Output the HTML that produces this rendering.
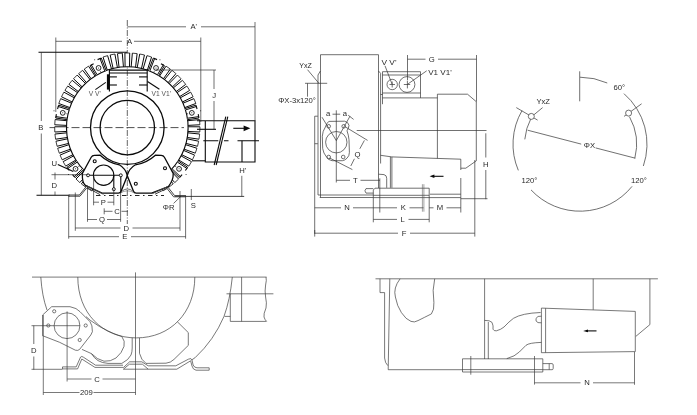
<!DOCTYPE html>
<html>
<head>
<meta charset="utf-8">
<title>Blower dimension drawing</title>
<style>
html,body{margin:0;padding:0;background:#fff;}
body{width:697px;height:415px;overflow:hidden;}
svg{display:block;will-change:transform;}
svg *{fill:none;}
text{font-family:"Liberation Sans",sans-serif;font-size:7.7px;fill:#2a2a2a;stroke:none;}
text.sm{font-size:6.4px;fill:#555;}
.d{stroke:#222;stroke-width:.65;}
.m{stroke:#0a0a0a;stroke-width:1.1;}
.mm{stroke:#0a0a0a;stroke-width:1.3;}
.mw{stroke:#0a0a0a;stroke-width:.9;fill:#fff;}
.dot{fill:#111;stroke:none;}
.fin{stroke:#0a0a0a;stroke-width:1;fill:#fff;}
.cap{stroke:#111;stroke-width:.8;}
.finw{fill:#fff;stroke:none;}
.pl{stroke:#0a0a0a;stroke-width:1.3;fill:#fff;}
.fill{fill:#0a0a0a;stroke:none;}
.g{stroke:#444;stroke-width:1;}
.s{stroke:#333;stroke-width:.7;}
.k{stroke:#555;stroke-width:.55;}
.sw{stroke:#333;stroke-width:.7;fill:#fff;}
.t{stroke:#3a3a3a;stroke-width:.68;}
.bd{stroke:#0a0a0a;stroke-width:.9;stroke-dasharray:4.5 3.5 1.5 3.5;}
.cl{stroke:#222;stroke-width:.7;stroke-dasharray:6 1.5 1 1.5;}
.cl2{stroke:#222;stroke-width:.8;stroke-dasharray:8 3;}
.cl3{stroke:#111;stroke-width:.9;stroke-dasharray:16 3 4 3;}
</style>
</head>
<body>
<svg width="697" height="415" viewBox="0 0 697 415">
<rect x="0" y="0" width="697" height="415" style="fill:#fff"/>
<line class="cl" x1="127.3" y1="20" x2="127.3" y2="224"/>
<line class="cl2" x1="49.5" y1="127.6" x2="184" y2="127.6"/>
<path class="finw" d="M75.82 160.03L65.73 166.15L63.13 161.65L73.47 155.96Z"/>
<path class="fin" d="M75.82 160.03L65.73 166.15M73.47 155.96L63.13 161.65"/>
<path class="cap" d="M65.73 166.15L63.13 161.65"/>
<path class="finw" d="M72.85 154.75L62.19 159.83L60.05 155.09L70.91 150.46Z"/>
<path class="fin" d="M72.85 154.75L62.19 159.83M70.91 150.46L60.05 155.09"/>
<path class="cap" d="M62.19 159.83L60.05 155.09"/>
<path class="finw" d="M70.41 149.19L59.31 153.19L57.65 148.26L68.92 144.73Z"/>
<path class="fin" d="M70.41 149.19L59.31 153.19M68.92 144.73L57.65 148.26"/>
<path class="cap" d="M59.31 153.19L57.65 148.26"/>
<path class="finw" d="M68.55 143.42L57.1 146.29L55.94 141.22L67.5 138.84Z"/>
<path class="fin" d="M68.55 143.42L57.1 146.29M67.5 138.84L55.94 141.22"/>
<path class="cap" d="M57.1 146.29L55.94 141.22"/>
<path class="finw" d="M67.26 137.49L55.59 139.21L54.94 134.05L66.68 132.83Z"/>
<path class="fin" d="M67.26 137.49L55.59 139.21M66.68 132.83L54.94 134.05"/>
<path class="cap" d="M55.59 139.21L54.94 134.05"/>
<path class="finw" d="M66.58 131.46L54.79 132.01L54.66 126.81L66.46 126.76Z"/>
<path class="fin" d="M66.58 131.46L54.79 132.01M66.46 126.76L54.66 126.81"/>
<path class="cap" d="M54.79 132.01L54.66 126.81"/>
<path class="finw" d="M66.49 125.4L54.71 124.77L55.1 119.58L66.85 120.71Z"/>
<path class="fin" d="M66.49 125.4L54.71 124.77M66.85 120.71L55.1 119.58"/>
<path class="cap" d="M54.71 124.77L55.1 119.58"/>
<path class="finw" d="M69.85 107.57L58.77 103.49L60.67 98.65L71.56 103.2Z"/>
<path class="fin" d="M69.85 107.57L58.77 103.49M71.56 103.2L60.67 98.65"/>
<path class="cap" d="M58.77 103.49L60.67 98.65"/>
<path class="finw" d="M72.12 101.95L61.51 96.79L63.88 92.16L74.27 97.77Z"/>
<path class="fin" d="M72.12 101.95L61.51 96.79M74.27 97.77L63.88 92.16"/>
<path class="cap" d="M61.51 96.79L63.88 92.16"/>
<path class="finw" d="M74.95 96.58L64.91 90.39L67.73 86.02L77.5 92.64Z"/>
<path class="fin" d="M74.95 96.58L64.91 90.39M77.5 92.64L67.73 86.02"/>
<path class="cap" d="M64.91 90.39L67.73 86.02"/>
<path class="finw" d="M78.3 91.53L68.92 84.36L72.16 80.3L81.23 87.85Z"/>
<path class="fin" d="M78.3 91.53L68.92 84.36M81.23 87.85L72.16 80.3"/>
<path class="cap" d="M68.92 84.36L72.16 80.3"/>
<path class="finw" d="M82.14 86.83L73.52 78.77L77.15 75.04L85.42 83.46Z"/>
<path class="fin" d="M82.14 86.83L73.52 78.77M85.42 83.46L77.15 75.04"/>
<path class="cap" d="M73.52 78.77L77.15 75.04"/>
<path class="finw" d="M86.42 82.53L78.64 73.65L82.63 70.31L90.02 79.51Z"/>
<path class="fin" d="M86.42 82.53L78.64 73.65M90.02 79.51L82.63 70.31"/>
<path class="cap" d="M78.64 73.65L82.63 70.31"/>
<path class="finw" d="M91.11 78.69L84.26 69.08L88.55 66.15L94.99 76.04Z"/>
<path class="fin" d="M91.11 78.69L84.26 69.08M94.99 76.04L88.55 66.15"/>
<path class="cap" d="M84.26 69.08L88.55 66.15"/>
<path class="finw" d="M107.28 70.15L103.02 57.02L107.61 55.61L111.49 68.85Z"/>
<path class="fin" d="M107.28 70.15L103.02 57.02M111.49 68.85L107.61 55.61"/>
<path class="cap" d="M103.02 57.02L107.61 55.61"/>
<path class="finw" d="M113.1 68.44L110.17 54.95L114.88 54L117.41 67.57Z"/>
<path class="fin" d="M113.1 68.44L110.17 54.95M117.41 67.57L114.88 54"/>
<path class="cap" d="M110.17 54.95L114.88 54"/>
<path class="finw" d="M119.06 67.32L117.49 53.61L122.27 53.13L123.44 66.88Z"/>
<path class="fin" d="M119.06 67.32L117.49 53.61M123.44 66.88L122.27 53.13"/>
<path class="cap" d="M117.49 53.61L122.27 53.13"/>
<path class="finw" d="M125.1 66.8L124.91 53L129.71 53L129.5 66.8Z"/>
<path class="fin" d="M125.1 66.8L124.91 53M129.5 66.8L129.71 53"/>
<path class="cap" d="M124.91 53L129.71 53"/>
<path class="finw" d="M131.17 66.88L132.35 53.13L137.12 53.61L135.55 67.32Z"/>
<path class="fin" d="M131.17 66.88L132.35 53.13M135.55 67.32L137.12 53.61"/>
<path class="cap" d="M132.35 53.13L137.12 53.61"/>
<path class="finw" d="M137.2 67.57L139.73 54L144.44 54.96L141.51 68.44Z"/>
<path class="fin" d="M137.2 67.57L139.73 54M141.51 68.44L144.44 54.96"/>
<path class="cap" d="M139.73 54L144.44 54.96"/>
<path class="finw" d="M143.12 68.85L147 55.61L151.59 57.02L147.33 70.15Z"/>
<path class="fin" d="M143.12 68.85L147 55.61M147.33 70.15L151.59 57.02"/>
<path class="cap" d="M147 55.61L151.59 57.02"/>
<path class="finw" d="M159.6 76.04L166.04 66.15L170.34 69.08L163.49 78.69Z"/>
<path class="fin" d="M159.6 76.04L166.04 66.15M163.49 78.69L170.34 69.08"/>
<path class="cap" d="M166.04 66.15L170.34 69.08"/>
<path class="finw" d="M164.58 79.51L171.97 70.31L175.95 73.65L168.18 82.53Z"/>
<path class="fin" d="M164.58 79.51L171.97 70.31M168.18 82.53L175.95 73.65"/>
<path class="cap" d="M171.97 70.31L175.95 73.65"/>
<path class="finw" d="M169.18 83.46L177.45 75.04L181.08 78.77L172.46 86.83Z"/>
<path class="fin" d="M169.18 83.46L177.45 75.04M172.46 86.83L181.08 78.77"/>
<path class="cap" d="M177.45 75.04L181.08 78.77"/>
<path class="finw" d="M173.37 87.85L182.44 80.3L185.68 84.36L176.3 91.53Z"/>
<path class="fin" d="M173.37 87.85L182.44 80.3M176.3 91.53L185.68 84.36"/>
<path class="cap" d="M182.44 80.3L185.68 84.36"/>
<path class="finw" d="M177.1 92.64L186.87 86.02L189.69 90.39L179.65 96.58Z"/>
<path class="fin" d="M177.1 92.64L186.87 86.02M179.65 96.58L189.69 90.39"/>
<path class="cap" d="M186.87 86.02L189.69 90.39"/>
<path class="finw" d="M180.33 97.77L190.72 92.16L193.09 96.79L182.47 101.95Z"/>
<path class="fin" d="M180.33 97.77L190.72 92.16M182.47 101.95L193.09 96.79"/>
<path class="cap" d="M190.72 92.16L193.09 96.79"/>
<path class="finw" d="M183.04 103.2L193.93 98.65L195.83 103.49L184.75 107.57Z"/>
<path class="fin" d="M183.04 103.2L193.93 98.65M184.75 107.57L195.83 103.49"/>
<path class="cap" d="M193.93 98.65L195.83 103.49"/>
<path class="finw" d="M187.75 120.71L199.5 119.58L199.89 124.76L188.11 125.4Z"/>
<path class="fin" d="M187.75 120.71L199.5 119.58M188.11 125.4L199.89 124.76"/>
<path class="cap" d="M199.5 119.58L199.89 124.76"/>
<path class="finw" d="M188.14 126.76L199.94 126.81L199.81 132.01L188.02 131.46Z"/>
<path class="fin" d="M188.14 126.76L199.94 126.81M188.02 131.46L199.81 132.01"/>
<path class="cap" d="M199.94 126.81L199.81 132.01"/>
<path class="finw" d="M187.92 132.83L199.66 134.04L199.01 139.2L187.34 137.49Z"/>
<path class="fin" d="M187.92 132.83L199.66 134.04M187.34 137.49L199.01 139.2"/>
<path class="cap" d="M199.66 134.04L199.01 139.2"/>
<path class="finw" d="M187.1 138.84L198.66 141.22L197.5 146.29L186.05 143.42Z"/>
<path class="fin" d="M187.1 138.84L198.66 141.22M186.05 143.42L197.5 146.29"/>
<path class="cap" d="M198.66 141.22L197.5 146.29"/>
<path class="finw" d="M185.68 144.73L196.95 148.25L195.29 153.18L184.19 149.19Z"/>
<path class="fin" d="M185.68 144.73L196.95 148.25M184.19 149.19L195.29 153.18"/>
<path class="cap" d="M196.95 148.25L195.29 153.18"/>
<path class="finw" d="M183.69 150.46L194.55 155.09L192.41 159.83L181.75 154.75Z"/>
<path class="fin" d="M183.69 150.46L194.55 155.09M181.75 154.75L192.41 159.83"/>
<path class="cap" d="M194.55 155.09L192.41 159.83"/>
<path class="finw" d="M181.13 155.96L191.48 161.65L188.88 166.15L178.78 160.03Z"/>
<path class="fin" d="M181.13 155.96L191.48 161.65M178.78 160.03L188.88 166.15"/>
<path class="cap" d="M191.48 161.65L188.88 166.15"/>
<path class="finw" d="M170.38 170.57L178.59 179.05L174.78 182.59L166.93 173.77Z"/>
<path class="fin" d="M170.38 170.57L178.59 179.05M166.93 173.77L174.78 182.59"/>
<path class="cap" d="M178.59 179.05L174.78 182.59"/>
<path class="finw" d="M87.67 173.77L79.82 182.59L76.01 179.05L84.22 170.57Z"/>
<path class="fin" d="M87.67 173.77L79.82 182.59M84.22 170.57L76.01 179.05"/>
<path class="cap" d="M79.82 182.59L76.01 179.05"/>
<path class="finw" d="M165.89 174.65L173.21 183.9L169.07 187.04L162.14 177.48Z"/>
<path class="fin" d="M165.89 174.65L173.21 183.9M162.14 177.48L169.07 187.04"/>
<path class="cap" d="M173.21 183.9L169.07 187.04"/>
<path class="finw" d="M92.46 177.48L85.53 187.04L81.39 183.9L88.71 174.65Z"/>
<path class="fin" d="M92.46 177.48L85.53 187.04M88.71 174.65L81.39 183.9"/>
<path class="cap" d="M85.53 187.04L81.39 183.9"/>
<path class="finw" d="M161.01 178.25L167.38 188.19L162.94 190.9L157 180.7Z"/>
<path class="fin" d="M161.01 178.25L167.38 188.19M157 180.7L162.94 190.9"/>
<path class="cap" d="M167.38 188.19L162.94 190.9"/>
<path class="finw" d="M97.6 180.7L91.66 190.9L87.22 188.19L93.59 178.25Z"/>
<path class="fin" d="M97.6 180.7L91.66 190.9M93.59 178.25L87.22 188.19"/>
<path class="cap" d="M91.66 190.9L87.22 188.19"/>
<path class="m" d="M93.3 178.01A60.8 60.8 0 1 1 161.3 178.01"/>
<circle class="mw" cx="75.54" cy="168.87" r="2.4"/>
<circle class="dot" cx="75.54" cy="168.87" r="0.5"/>
<circle class="dot" cx="78.9" cy="166.19" r="0.5"/>
<circle class="dot" cx="68.51" cy="174.48" r="0.5"/>
<path class="fin" d="M83.5 169.77L75.2 177.59L74.24 176.57L82.54 168.75"/>
<line class="m" x1="74.72" y1="177.08" x2="72.53" y2="174.64"/>
<path class="fin" d="M77.22 162.08L67.75 168.43L66.97 167.27L76.44 160.92"/>
<line class="m" x1="67.36" y1="167.85" x2="69.25" y2="170.53"/>
<circle class="mw" cx="62.76" cy="112.87" r="2.4"/>
<circle class="dot" cx="62.76" cy="112.87" r="0.5"/>
<circle class="dot" cx="66.95" cy="113.82" r="0.5"/>
<circle class="dot" cx="53.99" cy="110.86" r="0.5"/>
<path class="fin" d="M67.02 119.65L55.73 118.03L55.93 116.64L67.22 118.26"/>
<line class="m" x1="55.83" y1="117.33" x2="56.37" y2="114.1"/>
<path class="fin" d="M69.12 109.94L58.25 106.5L58.67 105.17L69.54 108.6"/>
<line class="m" x1="58.46" y1="105.83" x2="57.54" y2="108.98"/>
<circle class="mw" cx="98.58" cy="67.95" r="2.4"/>
<circle class="dot" cx="98.58" cy="67.95" r="0.5"/>
<circle class="dot" cx="100.45" cy="71.83" r="0.5"/>
<circle class="dot" cx="94.68" cy="59.84" r="0.5"/>
<path class="fin" d="M95.93 75.51L90.17 65.68L91.37 64.97L97.14 74.8"/>
<line class="m" x1="90.77" y1="65.32" x2="93.63" y2="63.73"/>
<path class="fin" d="M104.83 71.1L100.03 58.59L101.33 58.09L106.14 70.6"/>
<line class="m" x1="100.68" y1="58.34" x2="97.57" y2="59.62"/>
<circle class="mw" cx="156.02" cy="67.95" r="2.4"/>
<circle class="dot" cx="156.02" cy="67.95" r="0.5"/>
<circle class="dot" cx="154.15" cy="71.83" r="0.5"/>
<circle class="dot" cx="159.92" cy="59.84" r="0.5"/>
<path class="fin" d="M148.46 70.6L153.27 58.09L154.57 58.59L149.77 71.1"/>
<line class="m" x1="153.92" y1="58.34" x2="157.03" y2="59.62"/>
<path class="fin" d="M157.46 74.8L163.23 64.97L164.43 65.68L158.67 75.51"/>
<line class="m" x1="163.83" y1="65.32" x2="160.97" y2="63.73"/>
<circle class="mw" cx="191.84" cy="112.87" r="2.4"/>
<circle class="dot" cx="191.84" cy="112.87" r="0.5"/>
<circle class="dot" cx="187.65" cy="113.82" r="0.5"/>
<circle class="dot" cx="200.61" cy="110.86" r="0.5"/>
<path class="fin" d="M185.06 108.6L195.93 105.17L196.35 106.5L185.48 109.94"/>
<line class="m" x1="196.14" y1="105.83" x2="197.06" y2="108.98"/>
<path class="fin" d="M187.38 118.26L198.67 116.64L198.87 118.03L187.58 119.65"/>
<line class="m" x1="198.77" y1="117.33" x2="198.23" y2="114.1"/>
<circle class="mw" cx="179.06" cy="168.87" r="2.4"/>
<circle class="dot" cx="179.06" cy="168.87" r="0.5"/>
<circle class="dot" cx="175.7" cy="166.19" r="0.5"/>
<circle class="dot" cx="186.09" cy="174.48" r="0.5"/>
<path class="fin" d="M178.16 160.92L187.63 167.27L186.85 168.43L177.38 162.08"/>
<line class="m" x1="187.24" y1="167.85" x2="185.35" y2="170.53"/>
<path class="fin" d="M172.06 168.75L180.36 176.57L179.4 177.59L171.1 169.77"/>
<line class="m" x1="179.88" y1="177.08" x2="182.07" y2="174.64"/>
<circle class="mm" cx="127.3" cy="127.6" r="36.8"/>
<circle class="mm" cx="127.3" cy="127.6" r="27.2"/>
<path class="m" d="M109.4 91.5L109.4 70.1L147.2 70.1L147.2 91.5"/>
<line class="m" x1="109.4" y1="73" x2="147.2" y2="73"/>
<rect class="fill" x="106.9" y="74.3" width="2.5" height="15.3"/>
<line class="m" x1="109.4" y1="76.9" x2="116.9" y2="76.9"/>
<line class="m" x1="139" y1="76.9" x2="147.2" y2="76.9"/>
<line class="m" x1="109.4" y1="85" x2="116.9" y2="85"/>
<line class="m" x1="139" y1="85" x2="147.2" y2="85"/>
<line class="m" x1="105.8" y1="82.4" x2="95.4" y2="89.6"/>
<line class="m" x1="147.5" y1="81.5" x2="159.4" y2="89.3"/>
<text x="94.8" y="95.8" text-anchor="middle" class="sm" textLength="12" lengthAdjust="spacingAndGlyphs">V V'</text>
<text x="161.2" y="95.8" text-anchor="middle" class="sm" textLength="19.5" lengthAdjust="spacingAndGlyphs">V1 V1'</text>
<path class="pl" d="M91.2 157.2Q92.2 155.4 94.4 155.3L100.2 155.2A38.5 38.5 0 0 0 119.3 164.8Q125.6 168.6 127.4 175.6L121.2 191Q120.4 193.1 118.4 193.1L102 193.1L85.4 185.4Q82 183 82.4 173.4Z"/>
<path class="pl" d="M164.4 157.2Q163.4 155.4 161.2 155.3L155.4 155.2A38.5 38.5 0 0 1 135.4 164.8Q129 168.6 127.2 175.6L133.4 191Q134.2 193.1 136.2 193.1L151.6 193.1L168.4 186.6Q173.6 180 173.2 173.4Z"/>
<circle class="m" cx="94.7" cy="161.3" r="1.5"/>
<circle class="m" cx="165" cy="168.3" r="1.5"/>
<circle class="m" cx="135.8" cy="183.7" r="1.5"/>
<circle class="m" cx="103.6" cy="175.2" r="10.2"/>
<line class="m" x1="88" y1="175.3" x2="120.8" y2="175.3"/>
<line class="m" x1="113.8" y1="175.3" x2="113.8" y2="189.2"/>
<line class="m" x1="120.8" y1="175.3" x2="120.8" y2="193"/>
<circle class="mw" cx="88" cy="175.3" r="1.5"/>
<circle class="mw" cx="120.8" cy="175.3" r="1.5"/>
<circle class="mw" cx="113.8" cy="189.2" r="1.5"/>
<path class="d" d="M121.7 191.3Q127.4 186.6 133.2 191.3"/>
<path class="k" d="M120.5 193Q127.4 188.6 134.4 193"/>
<path class="bd" d="M96 195.5L164 195.5"/>
<path class="g" d="M69 195L79.4 195L86.8 185.8L103.5 194.3"/>
<path class="g" d="M69 196.2L80 196.2L87 187.6L100 194.6"/>
<path class="g" d="M152.4 193.6L167.5 186.6L174.6 195.6L186 195.6"/>
<path class="g" d="M155 194.2L167 188.4L173.6 196.8L186 196.8"/>
<line class="g" x1="69" y1="194.4" x2="69" y2="197"/>
<path class="m" d="M197 120.8L255 120.8L255 162L205.3 162L205.3 120.8"/>
<line class="m" x1="192" y1="160.8" x2="205.3" y2="160.8"/>
<line class="m" x1="242" y1="140.8" x2="242" y2="162"/>
<line class="m" x1="225.8" y1="116.7" x2="214.2" y2="165"/>
<line class="m" x1="227.8" y1="116.7" x2="216.2" y2="165"/>
<path class="m" d="M203.3 140.8H218.3M224 140.8H228.5M237.5 140.8H259"/>
<line class="m" x1="233.3" y1="128.3" x2="245" y2="128.3"/>
<path class="fill" d="M250.4 128.3L243.6 125.4L243.6 131.2Z"/>
<line class="d" x1="127.3" y1="26.8" x2="186" y2="26.8"/>
<line class="d" x1="201" y1="26.8" x2="255" y2="26.8"/>
<line class="d" x1="255" y1="22" x2="255" y2="120.8"/>
<text x="193.8" y="29.3" text-anchor="middle">A'</text>
<line class="d" x1="55.8" y1="41.3" x2="122" y2="41.3"/>
<line class="d" x1="134" y1="41.3" x2="200.8" y2="41.3"/>
<line class="d" x1="55.8" y1="37.5" x2="55.8" y2="112"/>
<line class="d" x1="200.8" y1="37.5" x2="200.8" y2="122"/>
<text x="129.6" y="43.8" text-anchor="middle">A</text>
<line class="m" x1="38.5" y1="52.3" x2="127" y2="52.3"/>
<line class="m" x1="36.5" y1="195.3" x2="68.7" y2="195.3"/>
<line class="d" x1="41.3" y1="52.3" x2="41.3" y2="121"/>
<line class="d" x1="41.3" y1="133.5" x2="41.3" y2="195.3"/>
<text x="40.8" y="129.6" text-anchor="middle">B</text>
<line class="d" x1="51.5" y1="174.7" x2="88" y2="174.7"/>
<line class="d" x1="55" y1="172.5" x2="55" y2="179.5"/>
<line class="d" x1="55" y1="191.5" x2="55" y2="195.3"/>
<text x="54.4" y="187.9" text-anchor="middle">D</text>
<text x="54.2" y="166.2" text-anchor="middle">U</text>
<line class="m" x1="57.8" y1="164.4" x2="73.3" y2="171.6"/>
<line class="d" x1="156" y1="70" x2="216" y2="70"/>
<line class="d" x1="214" y1="70" x2="214" y2="89"/>
<line class="d" x1="214" y1="101" x2="214" y2="129.3"/>
<line class="m" x1="197" y1="129.3" x2="216" y2="129.3"/>
<text x="214.2" y="98.3" text-anchor="middle">J</text>
<line class="d" x1="241.8" y1="175.8" x2="241.8" y2="197"/>
<line class="g" x1="175" y1="196.4" x2="244.2" y2="196.4"/>
<text x="242.8" y="173.3" text-anchor="middle">H'</text>
<line class="d" x1="191.3" y1="189" x2="191.3" y2="200"/>
<text x="193.3" y="207.6" text-anchor="middle">S</text>
<text x="168.6" y="209.8" text-anchor="middle">ΦR</text>
<line class="d" x1="173.6" y1="203.4" x2="181" y2="196.2"/>
<line class="d" x1="68.7" y1="195" x2="68.7" y2="238.7"/>
<line class="d" x1="185.6" y1="196" x2="185.6" y2="238.7"/>
<line class="d" x1="68.7" y1="236.7" x2="119" y2="236.7"/>
<line class="d" x1="131" y1="236.7" x2="185.6" y2="236.7"/>
<text x="124.8" y="239.3" text-anchor="middle">E</text>
<line class="d" x1="75.3" y1="192.5" x2="75.3" y2="230.8"/>
<line class="d" x1="180" y1="191" x2="180" y2="230.8"/>
<line class="d" x1="75.3" y1="228" x2="120.5" y2="228"/>
<line class="d" x1="132.5" y1="228" x2="180" y2="228"/>
<text x="126.4" y="230.6" text-anchor="middle">D</text>
<line class="d" x1="87.5" y1="188" x2="87.5" y2="221.8"/>
<line class="d" x1="120.6" y1="193" x2="120.6" y2="221.8"/>
<line class="d" x1="87.5" y1="219.5" x2="97" y2="219.5"/>
<line class="d" x1="107" y1="219.5" x2="120.6" y2="219.5"/>
<text x="102" y="222" text-anchor="middle">Q</text>
<line class="d" x1="104.2" y1="208.3" x2="104.2" y2="214.3"/>
<line class="d" x1="104.2" y1="211.3" x2="112.5" y2="211.3"/>
<line class="d" x1="121.5" y1="211.3" x2="127.8" y2="211.3"/>
<text x="117" y="213.8" text-anchor="middle">C</text>
<line class="d" x1="93.6" y1="175.3" x2="93.6" y2="205.3"/>
<line class="d" x1="113.8" y1="189.2" x2="113.8" y2="205.3"/>
<line class="d" x1="93.6" y1="202.2" x2="99" y2="202.2"/>
<line class="d" x1="107.5" y1="202.2" x2="113.8" y2="202.2"/>
<text x="103.3" y="204.8" text-anchor="middle">P</text>
<path class="s" d="M320.5 70.8L320.5 54.7L378.5 54.7L378.5 188"/>
<path class="s" d="M320.5 70.8L318 75L318 195L373.3 195"/>
<path class="s" d="M320.5 70.8L320.5 197.5"/>
<path class="s" d="M319.7 197.5L373.3 197.5"/>
<path class="s" d="M378.5 71L380.6 73.3L380.6 163.5"/>
<path class="s" d="M317.8 116.2L314.7 116.2L314.7 233.8"/>
<line class="s" x1="314.7" y1="143.7" x2="317.8" y2="143.7"/>
<path class="s" d="M329 121.4L344.6 121.2Q348.4 122 349 125.4Q348.6 128.4 347 130.8Q348.6 135 349 139.8L349.4 152.4Q349.4 156 347 158.2Q345 160.4 342.4 160.7L332 160.7Q328.6 160 326.8 157.4Q323.2 153 322.7 148.6L322.3 136.2Q322.6 131 325.4 127Q326.6 122.6 329 121.4Z"/>
<circle class="s" cx="336.3" cy="142.2" r="10.7"/>
<circle class="s" cx="328.7" cy="126.3" r="1.8"/>
<circle class="s" cx="343.7" cy="126.3" r="1.8"/>
<circle class="s" cx="328.7" cy="157" r="1.8"/>
<circle class="s" cx="343.2" cy="157" r="1.8"/>
<line class="s" x1="336.3" y1="110.3" x2="336.3" y2="182.5"/>
<line class="s" x1="336.3" y1="140.6" x2="322" y2="117.2"/>
<line class="s" x1="336.3" y1="140.6" x2="350" y2="116.2"/>
<line class="s" x1="332.5" y1="114.2" x2="340.2" y2="114.2"/>
<line class="s" x1="348.2" y1="115.2" x2="353.6" y2="119.4"/>
<text x="328.2" y="116" text-anchor="middle">a</text>
<text x="344.8" y="116" text-anchor="middle">a</text>
<line class="s" x1="345" y1="126.7" x2="367.6" y2="140.4"/>
<line class="s" x1="329.6" y1="158" x2="352.4" y2="169.6"/>
<line class="s" x1="364.4" y1="140.4" x2="359.8" y2="148.8"/>
<line class="s" x1="354.4" y1="158.8" x2="350.8" y2="166"/>
<text x="357.6" y="156.6" text-anchor="middle">Q</text>
<line class="s" x1="356.7" y1="130.5" x2="486.5" y2="130.5"/>
<text x="305.5" y="67.6" text-anchor="middle" textLength="12.5" lengthAdjust="spacingAndGlyphs">YxZ</text>
<line class="s" x1="307.5" y1="69.7" x2="318.9" y2="83.3"/>
<line class="s" x1="305" y1="83.3" x2="327.2" y2="83.3"/>
<line class="s" x1="307.5" y1="83.3" x2="307.5" y2="96.7"/>
<text x="297" y="103.4" text-anchor="middle" textLength="37.5" lengthAdjust="spacing">ΦX-3x120°</text>
<path class="s" d="M382.5 104.2L382.5 71.7L420.5 71.7L420.5 97.9"/>
<line class="s" x1="382.5" y1="97.9" x2="437.4" y2="97.9"/>
<line class="s" x1="382.5" y1="75" x2="420.5" y2="75"/>
<line class="s" x1="382.5" y1="93" x2="420.5" y2="93"/>
<line class="s" x1="380.6" y1="94.5" x2="382.5" y2="94.5"/>
<circle class="s" cx="392.2" cy="84.5" r="5.2"/>
<circle class="s" cx="407" cy="84.5" r="7.9"/>
<line class="s" x1="389.5" y1="84.5" x2="395" y2="84.5"/>
<line class="s" x1="392.2" y1="81.5" x2="392.2" y2="87.5"/>
<line class="s" x1="403.8" y1="84.5" x2="410.2" y2="84.5"/>
<line class="s" x1="407.4" y1="80.6" x2="407.4" y2="88.4"/>
<text x="389" y="65.2" text-anchor="middle" textLength="15" lengthAdjust="spacingAndGlyphs">V V'</text>
<line class="s" x1="385" y1="65.8" x2="392" y2="84"/>
<text x="440" y="74.8" text-anchor="middle" textLength="23.5" lengthAdjust="spacingAndGlyphs">V1 V1'</text>
<line class="s" x1="426.7" y1="70.8" x2="407.5" y2="84.3"/>
<line class="s" x1="407.5" y1="55" x2="407.5" y2="80"/>
<line class="s" x1="476.5" y1="55" x2="476.5" y2="101.7"/>
<line class="s" x1="407.5" y1="59.2" x2="425.5" y2="59.2"/>
<line class="s" x1="438" y1="59.2" x2="476.5" y2="59.2"/>
<text x="431.7" y="61.8" text-anchor="middle">G</text>
<path class="s" d="M437.4 158.4L437.4 94.2L467.5 94.2L476.3 101.7L476.3 160.8L465.8 168.2L460.8 168.2"/>
<path class="s" d="M380.6 155.3L391.7 156.9L460.8 159.2L460.8 170"/>
<line class="s" x1="460.8" y1="178" x2="460.8" y2="212.5"/>
<line class="s" x1="390.4" y1="156.8" x2="390.4" y2="187.8"/>
<line class="s" x1="391.9" y1="156.9" x2="391.9" y2="187.8"/>
<line class="s" x1="430" y1="194.2" x2="460.8" y2="194.2"/>
<line class="m" x1="433" y1="176.3" x2="443.5" y2="176.3"/>
<path class="fill" d="M429.6 176.3L434.4 174.6L434.4 178Z"/>
<path class="s" d="M378.6 174.2L384 174.6Q386.8 175.2 386.7 178.4L386.7 187.8"/>
<path class="s" d="M373.3 222.3L373.3 190L375 188.2L429.2 188.2L429.2 222.3"/>
<line class="s" x1="373.3" y1="195.3" x2="429.2" y2="195.3"/>
<line class="s" x1="373.3" y1="197.6" x2="460.8" y2="197.6"/>
<line class="s" x1="460.8" y1="198.7" x2="487.5" y2="198.7"/>
<path class="s" d="M373.3 188.6L366 188.6Q363.8 190.8 366 193.1L373.3 193.1"/>
<line class="s" x1="336.3" y1="180.3" x2="350" y2="180.3"/>
<line class="s" x1="360.5" y1="180.3" x2="380" y2="180.3"/>
<text x="355.3" y="182.9" text-anchor="middle">T</text>
<line class="s" x1="379.8" y1="178.3" x2="379.8" y2="212.5"/>
<line class="s" x1="314.7" y1="207.8" x2="341" y2="207.8"/>
<line class="s" x1="353" y1="207.8" x2="397" y2="207.8"/>
<text x="347" y="210.3" text-anchor="middle">N</text>
<text x="403.2" y="210.3" text-anchor="middle">K</text>
<line class="s" x1="409.5" y1="207.8" x2="423.5" y2="207.8"/>
<line class="k" x1="422.4" y1="184.2" x2="422.4" y2="211.7"/>
<line class="k" x1="423.9" y1="184.2" x2="423.9" y2="211.7"/>
<line class="s" x1="429.2" y1="207.8" x2="433.5" y2="207.8"/>
<line class="s" x1="446.5" y1="207.8" x2="460.8" y2="207.8"/>
<text x="440" y="210.3" text-anchor="middle">M</text>
<line class="s" x1="373.3" y1="219.4" x2="397" y2="219.4"/>
<line class="s" x1="408.5" y1="219.4" x2="429.2" y2="219.4"/>
<text x="402.7" y="222" text-anchor="middle">L</text>
<line class="s" x1="314.7" y1="233.2" x2="398" y2="233.2"/>
<line class="s" x1="410" y1="233.2" x2="474.8" y2="233.2"/>
<line class="s" x1="314.7" y1="230" x2="314.7" y2="236.6"/>
<line class="s" x1="474.8" y1="160" x2="474.8" y2="236.6"/>
<text x="404" y="235.8" text-anchor="middle">F</text>
<line class="s" x1="485.8" y1="133.3" x2="485.8" y2="157.5"/>
<line class="s" x1="485.8" y1="170" x2="485.8" y2="199.2"/>
<text x="485.8" y="166.8" text-anchor="middle">H</text>
<path class="s" d="M580 77.2A67 67 0 0 1 607.25 82.99"/>
<path class="s" d="M623.96 93.63A67 67 0 0 1 643.35 166.01"/>
<path class="s" d="M632.07 186.36A67 67 0 0 1 531 189.89"/>
<path class="s" d="M518.33 170.38A67 67 0 0 1 521.98 110.7"/>
<line class="s" x1="579.7" y1="71.3" x2="579.7" y2="101.3"/>
<path class="s" d="M629.5 116.76A56.6 56.6 0 0 1 634.8 158.37"/>
<path class="s" d="M531.08 118.19A55.4 55.4 0 0 0 524.81 139.37"/>
<line class="s" x1="527.6" y1="130.2" x2="581.2" y2="144.1"/>
<line class="s" x1="595.6" y1="147.9" x2="635.3" y2="158.2"/>
<line class="s" x1="516.3" y1="107.6" x2="537.6" y2="120.1"/>
<line class="s" x1="542.6" y1="107.6" x2="533.2" y2="115.4"/>
<line class="s" x1="624" y1="116.4" x2="641.6" y2="103.8"/>
<circle class="sw" cx="531.3" cy="116.4" r="3"/>
<circle class="sw" cx="628.6" cy="113.1" r="3"/>
<text x="619.2" y="89.6" text-anchor="middle">60°</text>
<text x="543.2" y="103.8" text-anchor="middle" textLength="13.5" lengthAdjust="spacingAndGlyphs">YxZ</text>
<text x="589.4" y="148.3" text-anchor="middle">ΦX</text>
<text x="529.5" y="183.2" text-anchor="middle">120°</text>
<text x="639" y="183.2" text-anchor="middle">120°</text>
<line class="t" x1="32" y1="277.1" x2="266.6" y2="277.1"/>
<line class="t" x1="135.5" y1="272.4" x2="135.5" y2="395"/>
<path class="t" d="M40.8 277.1Q42 296 47 310"/>
<path class="t" d="M232.3 277.1Q230 300 224 316.4Q214 340 195.2 357.6L191.6 360"/>
<path class="t" d="M77.8 277.1C77.8 312.7 102.1 337.9 136.3 337.9C170.5 337.9 194.8 312.7 194.8 277.1"/>
<path class="t" d="M42.6 335.8L42.6 315L51.7 306.7L70 306.7Q77 308 80 311.7L90 321.7Q92.6 325 92.4 331.7L90.8 335L79.6 349.4Q78 351 75.4 350.2Q60 341.6 43.4 336Z"/>
<line class="t" x1="43.3" y1="315" x2="43.3" y2="395"/>
<circle class="t" cx="67" cy="325.7" r="12.9"/>
<circle class="t" cx="54.2" cy="311.3" r="1.6"/>
<circle class="t" cx="48.3" cy="325.5" r="1.6"/>
<circle class="t" cx="85.7" cy="325.5" r="1.6"/>
<circle class="t" cx="79.7" cy="340" r="1.6"/>
<line class="t" x1="67.1" y1="311.4" x2="67.1" y2="381.5"/>
<line class="t" x1="31.5" y1="325.7" x2="80" y2="325.7"/>
<path class="t" d="M86 316.6L90.3 320.3Q100 327.5 108 331Q115 334.4 121.8 336.5Q125.4 341 124 346.4Q122 353 116 358Q110.6 361.8 104 361.2Q97 359.6 91.4 353.6L82 349.4"/>
<path class="t" d="M91.4 353.6Q94 358 98 360.6Q102 363 108 363.4L121.8 363.4Q128.6 360 131 355Q132.2 352 132.2 348L132.2 337.8"/>
<path class="t" d="M139.5 338L139.5 353.3Q141 360 146 363.4L166 363.2Q170.6 362.8 174 359.4L188.3 345.4L188.3 332.6L177.4 321.8"/>
<path class="t" d="M62.5 368.9L77.6 368.9L81.8 359L95 367.4L123.6 367.4L129.6 361.8L141.8 361.8L148.2 365.8L175.8 365.8L188.4 359.2Q191.4 357.6 192 360L193.1 365Q194.4 367.8 197 367.8L209.2 367.8L209.2 370.2L196 370.2Q192.8 369.6 192 366L190.6 360.8L176.8 369.2L148.2 369.2L142.4 364.2L129.4 364.2L123.4 369.2"/>
<path class="t" d="M62.5 366.9L76.2 366.9L80.6 357Q81.6 355.8 83.4 357.2L95.6 365.2L123 365.2"/>
<line class="t" x1="123.4" y1="369.2" x2="148.2" y2="369.2"/>
<line class="t" x1="62.5" y1="366.9" x2="62.5" y2="368.9"/>
<path class="t" d="M230.3 293.8L230.3 321.4L266.4 321.4"/>
<line class="t" x1="241.6" y1="277.1" x2="241.6" y2="321.4"/>
<line class="t" x1="224.6" y1="316.4" x2="230.3" y2="316.4"/>
<path class="t" d="M266 277.1Q266.8 280 265.6 285Q264.6 291 265.6 297Q267 303 266 308Q263.4 314 264 317Q265 320 266.6 321.4"/>
<line class="t" x1="226.5" y1="293.8" x2="273.4" y2="293.8"/>
<line class="d" x1="33.8" y1="325.6" x2="33.8" y2="344"/>
<line class="d" x1="33.8" y1="356.5" x2="33.8" y2="369.7"/>
<text x="33.8" y="352.6" text-anchor="middle">D</text>
<line class="t" x1="31.5" y1="369.3" x2="62.5" y2="369.3"/>
<line class="t" x1="67.2" y1="379" x2="91.5" y2="379"/>
<line class="t" x1="102.5" y1="379" x2="135.5" y2="379"/>
<text x="97" y="381.6" text-anchor="middle">C</text>
<line class="t" x1="43.3" y1="392.5" x2="79.5" y2="392.5"/>
<line class="t" x1="93.5" y1="392.5" x2="135.5" y2="392.5"/>
<text x="86.4" y="395.2" text-anchor="middle">209</text>
<line class="t" x1="375.5" y1="278.8" x2="657.9" y2="278.8"/>
<path class="t" d="M380 278.8L380 292.6L384.6 292.6L384.6 358Q385 363 387.8 365.6"/>
<path class="t" d="M389.8 278.8L388.2 369.7L462.5 369.7"/>
<path class="t" d="M400.1 278.8Q393 288 395.4 297Q397 306 401.4 312.6Q406 319.6 411 321.4Q414.4 322.8 418 320.6Q424 317.6 431.4 313.9Q434.4 310 433.9 302.6Q432 290 434.7 278.8"/>
<line class="t" x1="484.6" y1="278.8" x2="484.6" y2="359"/>
<path class="t" d="M484.6 320.4Q490 320.2 492 322.4Q493.6 326 493 329.2Q494 331.2 496.4 330.8Q501 329.6 504 327Q509 321.6 513.5 318.3Q522 313.2 540.6 312.5"/>
<line class="t" x1="488.3" y1="322" x2="488.3" y2="359"/>
<path class="t" d="M541.4 316.2Q537.4 315.6 536 318.4Q535.2 321.6 538 322.6L541.4 322.8"/>
<path class="t" d="M506.8 358.6Q515 356.4 519.3 352L526 345.3Q529 342.8 541.4 342.4"/>
<path class="t" d="M541.4 352.7L541.4 308.1L635.3 311.4L635.3 351.6L541.4 352.7"/>
<line class="t" x1="545.6" y1="308.3" x2="545.6" y2="352.6"/>
<line class="t" x1="593.2" y1="278.8" x2="593.2" y2="309.8"/>
<path class="t" d="M649.9 278.8L649.9 324.6L635.8 336.4"/>
<line class="t" x1="634.5" y1="352" x2="634.5" y2="384.8"/>
<line class="m" x1="586" y1="330.9" x2="596.5" y2="330.9"/>
<path class="fill" d="M583.2 330.9L588 329.6L588 332.2Z"/>
<path class="t" d="M462.5 358.8L542.8 358.8L542.8 372L462.5 372L462.5 358.8"/>
<line class="t" x1="462.5" y1="369.6" x2="542.8" y2="369.6"/>
<path class="t" d="M542.8 363.6L552.2 363.6Q553.2 363.8 553.2 365L553.2 368.4Q553.2 369.6 552.2 369.7L542.8 369.7"/>
<line class="t" x1="549.2" y1="363.6" x2="549.2" y2="369.7"/>
<line class="t" x1="470.8" y1="356" x2="470.8" y2="374.7"/>
<line class="t" x1="534.5" y1="356" x2="534.5" y2="384.6"/>
<line class="t" x1="534.5" y1="382.8" x2="580.5" y2="382.8"/>
<line class="t" x1="593" y1="382.8" x2="634.5" y2="382.8"/>
<text x="587" y="385.4" text-anchor="middle">N</text>
</svg>
</body>
</html>
